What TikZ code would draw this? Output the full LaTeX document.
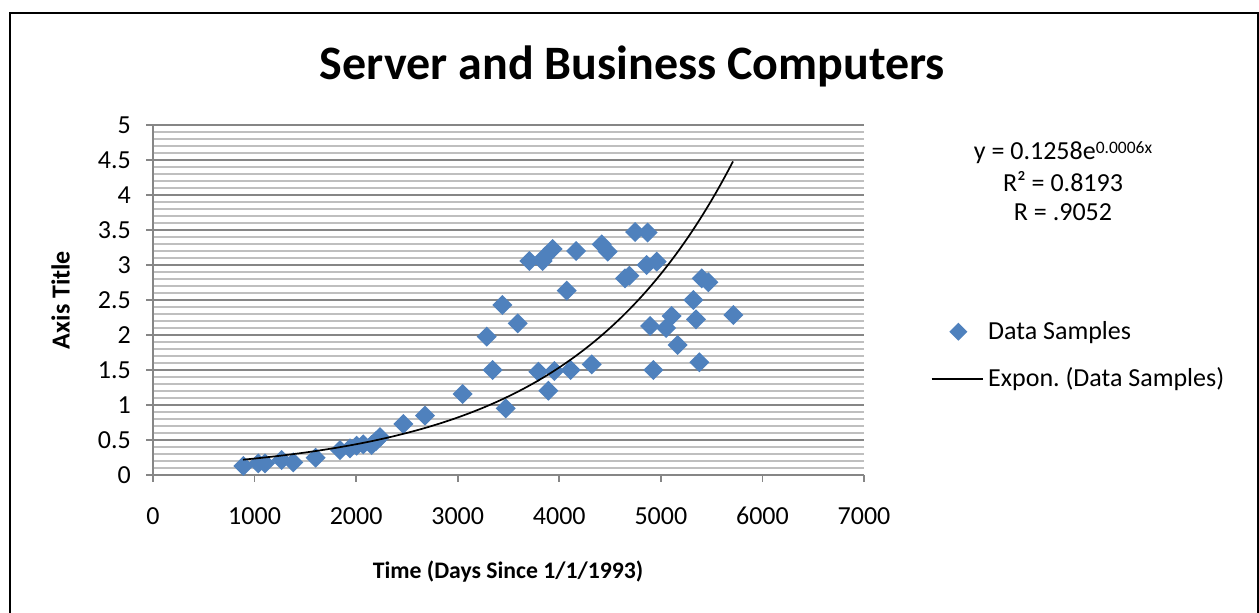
\documentclass[tikz,border=0pt]{standalone}
\usepackage{fontspec}
\setmainfont{Carlito}
\frenchspacing
\definecolor{mkblue}{RGB}{79,129,189}
\definecolor{gridmaj}{RGB}{134,134,134}
\definecolor{gridmin}{RGB}{191,191,191}
\tikzset{
  ticklbl/.style={inner sep=0pt, font=\fontsize{26}{30}\selectfont},
  marker/.style={fill=mkblue, draw=none},
  majline/.style={draw=gridmaj, line width=1.6pt},
  minline/.style={draw=gridmin, line width=1.6pt},
}
\newcommand{\dmd}[3]{\fill[marker] (#1,#2-#3) -- (#1+#3,#2) -- (#1,#2+#3) -- (#1-#3,#2) -- cycle;}
\begin{document}
\begin{tikzpicture}[x=1pt,y=-1pt]
\useasboundingbox (0,0) rectangle (1259,613);
\clip (0,0) rectangle (1259,613);
\fill[white] (0,0) rectangle (1259,613);
% outer frame
\draw[line width=2pt] (10,13) rectangle (1257.5,640);
% title
\node[inner sep=0pt, anchor=base, font=\fontsize{48}{56}\selectfont\bfseries] (title) at (632.5,79.3) {Server and Business Computers};
% minor grid
\foreach \i in {1,...,49}{
  \pgfmathtruncatemacro{\r}{mod(\i,5)}
  \ifnum\r=0\else
    \draw[minline] (153,{475-7*\i}) -- (864,{475-7*\i});
  \fi
}
% major grid
\foreach \k in {1,...,10}{
  \draw[majline] (146,{475-35*\k}) -- (864,{475-35*\k});
}
% axes
\draw[majline] (153,125) -- (153,475);
\draw[majline] (146,475) -- (864,475);
\foreach \k in {0,...,7}{
  \draw[majline] ({153+101.57*\k},475) -- ({153+101.57*\k},482);
}
% y tick labels
\foreach \v/\l in {0/0,1/0.5,2/1,3/1.5,4/2,5/2.5,6/3,7/3.5,8/4,9/4.5,10/5}{
  \node[ticklbl, anchor=base east] (yl\v) at (131,{475-35*\v+8.2}) {\l};
}
% x tick labels
\foreach \k/\l in {0/0,1/1000,2/2000,3/3000,4/4000,5/5000,6/6000,7/7000}{
  \node[ticklbl, anchor=base] (xl\k) at ({153+101.57*\k},524) {\l};
}
% axis titles
\node[inner sep=0pt, anchor=base, font=\fontsize{23.7}{28}\selectfont\bfseries] (xtitle) at (508,578) {Time (Days Since 1/1/1993)};
\node[inner sep=0pt, rotate=90, anchor=base, font=\fontsize{26}{30}\selectfont\bfseries] (ytitle) at (69.5,300) {Axis Title};
% data
\foreach \px/\py in {243.3/466,258.3/463.3,265/463.3,281.7/460,293.3/462.3,315.7/457.7,340/450,350/448.3,356.7/445.7,363.3/444.3,371.7/445,376/441,380/437,403.3/424,425/415.7,
462.7/394,505.7/408.3,486.7/336.7,492.7/370,502.3/305,517.7/323.3,529.3/261,542.7/261,545/256.7,552.7/249,576/251,566.7/290.7,538.3/371.7,554.3/371,548.3/390.7,570.7/370,591.7/364.3,601.7/244.3,607.7/251.7,635/232,647.5/232.5,625/278.3,629.3/275.7,646.7/265,656.7/261.7,650/326,666/328,671.5/316,677.5/345,653.3/370,701.7/278.3,708.3/282.3,693.3/300,696/319.3,733.3/315,699.3/362.3}{
  \dmd{\px}{\py}{10}
}
% trend line
\draw[black, line width=1.7pt] plot[domain=243:733, samples=120, smooth] (\x,{475-70*0.1258*exp(0.0006326*(\x-153)/0.10157)});
% equation
\node[ticklbl, anchor=base] (eq1) at (1063,159.3) {y = 0.1258e\raisebox{6pt}{\fontsize{17.5}{20}\selectfont 0.0006x}};
\node[ticklbl, anchor=base] (eq2) at (1063,191) {R² = 0.8193};
\node[ticklbl, anchor=base] (eq3) at (1063,220.7) {R = .9052};
% legend
\dmd{958.3}{331.7}{9}
\node[ticklbl, anchor=base west] (leg1) at (988,339.3) {Data Samples};
\coordinate (ls) at (931.7,379.3);
\coordinate (le) at (983.3,379.3);
\draw[black, line width=1.7pt] (ls) -- (le);
\node[ticklbl, anchor=base west] (leg2) at (988,386) {Expon. (Data Samples)};
\end{tikzpicture}
\end{document}
